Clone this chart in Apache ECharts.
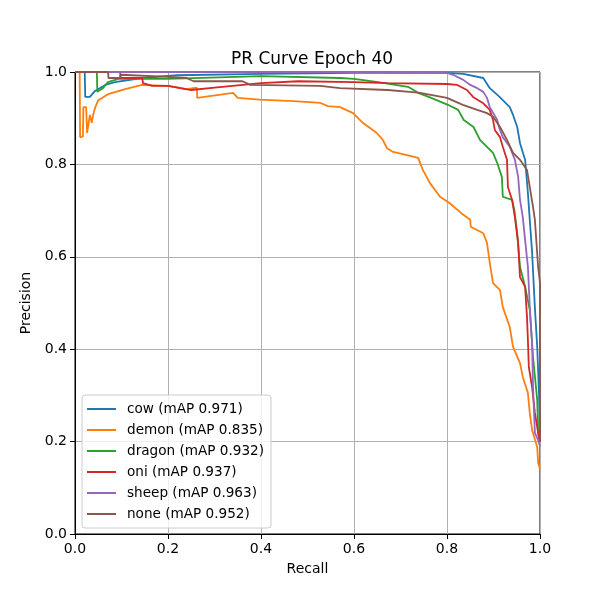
<!DOCTYPE html>
<html>
<head>
<meta charset="utf-8">
<script src="https://cdn.jsdelivr.net/npm/echarts@6/dist/echarts.min.js"></script>
<style>html,body{margin:0;padding:0;background:#fff}#c{width:600px;height:600px}</style>
</head>
<body>
<div id="c"></div>
<script>
const seriesNames = ['cow (mAP 0.971)','demon (mAP 0.835)','dragon (mAP 0.932)','oni (mAP 0.937)','sheep (mAP 0.963)','none (mAP 0.952)'];
const colors = ['#1f77b4','#ff7f0e','#2ca02c','#d62728','#9467bd','#8c564b'];
const tickValues = [0, 0.2, 0.4, 0.6, 0.8, 1.0];

const cow = [[0,1],[0.021,1],[0.022,0.946],[0.032,0.946],[0.043,0.959],[0.065,0.972],[0.086,0.978],[0.144,0.987],[0.22,0.993],[0.4,0.996],[0.6,0.998],[0.8,0.998],[0.835,0.996],[0.878,0.987],[0.892,0.965],[0.913,0.946],[0.935,0.924],[0.942,0.907],[0.951,0.881],[0.957,0.846],[0.968,0.81],[0.974,0.738],[0.978,0.68],[0.983,0.61],[0.989,0.49],[0.994,0.405],[0.998,0.3],[1.0,0.2]];
const demon = [[0,1],[0.01,1],[0.011,0.859],[0.017,0.86],[0.018,0.924],[0.024,0.924],[0.026,0.868],[0.03,0.868],[0.032,0.907],[0.036,0.89],[0.039,0.907],[0.043,0.922],[0.05,0.939],[0.071,0.952],[0.108,0.963],[0.144,0.972],[0.2,0.97],[0.24,0.963],[0.262,0.966],[0.263,0.944],[0.34,0.955],[0.35,0.944],[0.397,0.94],[0.47,0.937],[0.528,0.933],[0.544,0.926],[0.57,0.924],[0.598,0.911],[0.619,0.89],[0.649,0.868],[0.662,0.853],[0.671,0.835],[0.684,0.827],[0.714,0.82],[0.738,0.814],[0.748,0.788],[0.763,0.76],[0.785,0.73],[0.806,0.716],[0.83,0.695],[0.85,0.68],[0.851,0.665],[0.878,0.651],[0.886,0.63],[0.892,0.587],[0.899,0.543],[0.914,0.528],[0.92,0.491],[0.935,0.448],[0.942,0.405],[0.957,0.37],[0.963,0.34],[0.974,0.305],[0.978,0.262],[0.983,0.225],[0.994,0.188],[0.996,0.154],[1.0,0.14]];
const dragon = [[0,1],[0.047,1],[0.048,0.957],[0.06,0.965],[0.071,0.978],[0.093,0.985],[0.2,0.985],[0.4,0.991],[0.57,0.987],[0.6,0.985],[0.652,0.978],[0.716,0.968],[0.738,0.955],[0.766,0.944],[0.802,0.929],[0.824,0.918],[0.836,0.896],[0.857,0.881],[0.871,0.853],[0.886,0.838],[0.899,0.825],[0.908,0.803],[0.918,0.773],[0.92,0.73],[0.94,0.723],[0.945,0.7],[0.951,0.651],[0.957,0.578],[0.968,0.535],[0.978,0.485],[0.985,0.383],[0.994,0.29],[0.996,0.219],[1.0,0.2]];
const oni = [[0,1],[0.097,1],[0.098,0.987],[0.145,0.987],[0.146,0.976],[0.166,0.97],[0.2,0.97],[0.25,0.961],[0.3,0.966],[0.4,0.976],[0.48,0.98],[0.6,0.978],[0.672,0.976],[0.8,0.974],[0.822,0.972],[0.843,0.961],[0.856,0.946],[0.877,0.933],[0.892,0.918],[0.899,0.896],[0.903,0.874],[0.914,0.859],[0.92,0.838],[0.929,0.81],[0.931,0.751],[0.94,0.723],[0.946,0.686],[0.953,0.63],[0.957,0.556],[0.968,0.535],[0.972,0.47],[0.974,0.42],[0.976,0.361],[0.983,0.318],[0.989,0.262],[0.996,0.219],[1.0,0.2]];
const sheep = [[0,1],[0.6,1],[0.8,0.998],[0.813,0.994],[0.835,0.983],[0.85,0.972],[0.865,0.965],[0.878,0.957],[0.886,0.944],[0.892,0.924],[0.908,0.896],[0.914,0.874],[0.92,0.859],[0.935,0.838],[0.946,0.81],[0.953,0.773],[0.957,0.723],[0.963,0.686],[0.968,0.636],[0.974,0.578],[0.978,0.491],[0.983,0.413],[0.985,0.318],[0.989,0.219],[0.996,0.203],[1.0,0.19]];
const none = [[0,1],[0.071,1],[0.072,0.987],[0.097,0.987],[0.098,0.994],[0.19,0.99],[0.24,0.987],[0.255,0.98],[0.36,0.98],[0.377,0.972],[0.527,0.97],[0.57,0.965],[0.672,0.961],[0.72,0.957],[0.742,0.955],[0.8,0.944],[0.834,0.929],[0.865,0.918],[0.886,0.911],[0.899,0.903],[0.914,0.881],[0.929,0.853],[0.942,0.825],[0.957,0.81],[0.972,0.788],[0.978,0.751],[0.985,0.708],[0.989,0.68],[0.996,0.578],[1.0,0.543],[1.0,0.2]];

const allData = [cow, demon, dragon, oni, sheep, none];
const font = 'DejaVu Sans';

const chart = echarts.init(document.getElementById('c'), null, {renderer: 'canvas'});
const axisCommon = {
  type: 'value', min: 0, max: 1, interval: 0.2,
  nameLocation: 'middle',
  nameTextStyle: {color: '#000', fontSize: 14, fontFamily: font},
  axisLine: {show: true, lineStyle: {color: '#000', width: 1}},
  axisTick: {show: true, inside: false, length: 5, lineStyle: {color: '#000', width: 1}},
  axisLabel: {color: '#000', fontSize: 14, fontFamily: font, margin: 8, formatter: v => v.toFixed(1)},
  splitLine: {show: true, lineStyle: {color: '#b0b0b0', width: 1}}
};
chart.setOption({
  animation: false,
  backgroundColor: '#fff',
  title: {
    text: 'PR Curve Epoch 40', left: 307, top: 46, textAlign: 'center',
    textStyle: {color: '#000', fontSize: 17, fontWeight: 'normal', fontFamily: font}
  },
  grid: {left: 75, right: 60, top: 72, bottom: 66, show: true, borderColor: '#000', borderWidth: 1, containLabel: false},
  xAxis: Object.assign({}, axisCommon, {name: 'Recall', nameGap: 28}),
  yAxis: Object.assign({}, axisCommon, {name: 'Precision', nameGap: 38}),
  legend: {
    orient: 'vertical', left: 82, top: 395,
    data: seriesNames,
    icon: 'rect', itemWidth: 29, itemHeight: 2, itemGap: 7,
    padding: [7, 7, 7, 5],
    backgroundColor: 'rgba(255,255,255,0.8)',
    borderColor: '#cccccc', borderWidth: 1, borderRadius: 3,
    textStyle: {color: '#000', fontSize: 13.6, fontFamily: font, padding: [0, 0, 0, 6]}
  },
  series: allData.map((d, i) => ({
    name: seriesNames[i], type: 'line', data: d, showSymbol: false, symbol: 'none',
    color: colors[i], lineStyle: {color: colors[i], width: 1.8}, clip: true
  }))
});
</script>
</body>
</html>
